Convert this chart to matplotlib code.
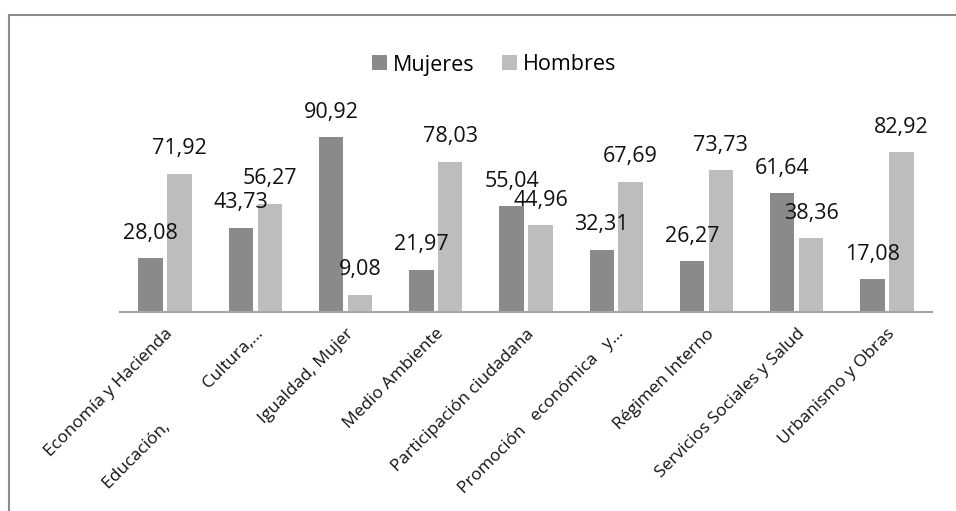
import matplotlib.pyplot as plt
import numpy as np
from matplotlib.lines import Line2D

categories = ["Economía y Hacienda", "Educación,            Cultura,...", "Igualdad, Mujer",
              "Medio Ambiente", "Participación ciudadana", "Promoción   económica   y...",
              "Régimen Interno", "Servicios Sociales y Salud", "Urbanismo y Obras"]
mujeres = [28.08, 43.73, 90.92, 21.97, 55.04, 32.31, 26.27, 61.64, 17.08]
hombres = [71.92, 56.27, 9.08, 78.03, 44.96, 67.69, 73.73, 38.36, 82.92]

plt.rcParams['font.family'] = ['Open Sans', 'DejaVu Sans']

fig = plt.figure(figsize=(9.56, 5.11), dpi=100)
ax = fig.add_axes([120 / 956, 199 / 511, 812 / 956, 192.5 / 511])

x = np.arange(len(categories))
w = 0.27
b1 = ax.bar(x - 0.16, mujeres, w, color='#8a8a8a', label='Mujeres', zorder=2)
b2 = ax.bar(x + 0.16, hombres, w, color='#bdbdbd', label='Hombres', zorder=2)

def fmt(v):
    return f"{v:.2f}".replace('.', ',')

for bars, vals in [(b1, mujeres), (b2, hombres)]:
    for r, v in zip(bars, vals):
        ax.annotate(fmt(v), (r.get_x() + r.get_width() / 2, v), xytext=(0, 14),
                    textcoords='offset points', ha='center', va='baseline',
                    fontsize=15.5, color='#111111', zorder=3)

ax.set_xlim(-0.5, len(categories) - 0.5)
ax.set_ylim(0, 100)
ax.set_yticks([])
ax.set_xticks(x)
ax.set_xticklabels(categories, rotation=45, ha='right', rotation_mode='anchor',
                   fontsize=12.5, color='#111111')
ax.tick_params(axis='x', length=0, pad=10)
for s in ['top', 'right', 'left']:
    ax.spines[s].set_visible(False)
ax.spines['bottom'].set_color('#a6a6a6')
ax.spines['bottom'].set_linewidth(1.5)

fig.legend(handles=[b1, b2], loc='center', bbox_to_anchor=(494 / 956, 1 - 65 / 511),
           ncol=2, frameon=False, fontsize=15.5, handlelength=0.7, handleheight=0.7,
           handletextpad=0.25, columnspacing=1.3)

# outer frame (left and top edges visible)
fig.add_artist(Line2D([9 / 956, 9 / 956], [0, 1 - 15 / 511], color='#8c8c8c', lw=1.5,
                      transform=fig.transFigure))
fig.add_artist(Line2D([9 / 956, 1], [1 - 15 / 511, 1 - 15 / 511], color='#8c8c8c', lw=1.5,
                      transform=fig.transFigure))

fig.savefig('out.png', dpi=100)
